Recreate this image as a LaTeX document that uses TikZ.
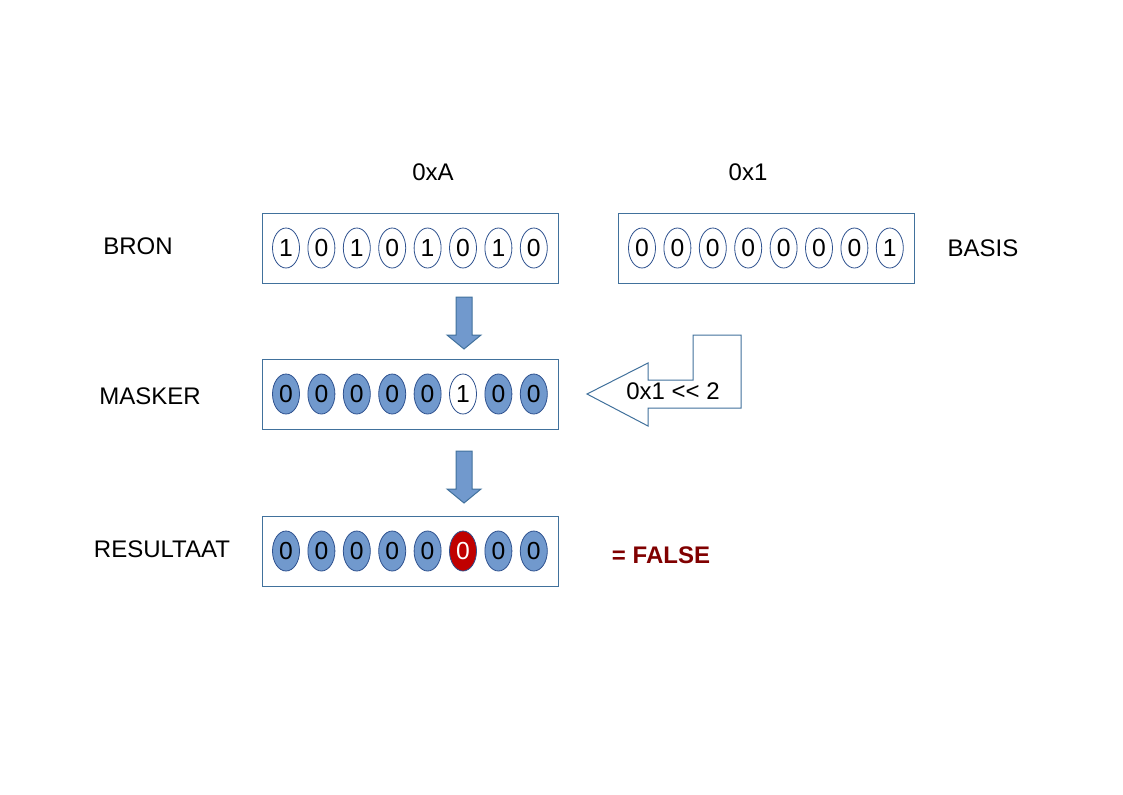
\documentclass[tikz,border=0pt]{standalone}
\usepackage{fontspec}
\setmainfont{Liberation Sans}
\usetikzlibrary{shapes.geometric}
\definecolor{boxline}{HTML}{41719C}
\definecolor{bitline}{HTML}{2F528F}
\definecolor{bitfill}{HTML}{7199CD}
\definecolor{redfill}{HTML}{C00000}
\definecolor{falsecol}{HTML}{800000}
\tikzset{
  regbox/.style={draw=boxline, line width=0.75pt, fill=white},
  bit/.style={ellipse, draw=bitline, line width=0.6pt, minimum width=27*0.75pt, minimum height=40*0.75pt, inner sep=0pt, font=\fontsize{18.5}{20}\selectfont},
  bitset/.style={bit, fill=bitfill},
  bitred/.style={bit, fill=redfill, text=white},
  lbl/.style={font=\fontsize{18}{20}\selectfont, inner sep=0pt},
  blockarrow/.style={draw=boxline, line width=0.75pt, fill=bitfill},
}
\begin{document}
\begin{tikzpicture}[x=0.75pt, y=-0.75pt]
\useasboundingbox (0,0) rectangle (1123,794);
% registers
\node[regbox, minimum width=296*0.75pt, minimum height=70*0.75pt, inner sep=0pt] (bron) at (410,248) {};
\node[regbox, minimum width=296*0.75pt, minimum height=70*0.75pt, inner sep=0pt] (basis) at (766,248) {};
\node[regbox, minimum width=296*0.75pt, minimum height=70*0.75pt, inner sep=0pt] (masker) at (410,394) {};
\node[regbox, minimum width=296*0.75pt, minimum height=70*0.75pt, inner sep=0pt] (result) at (410,551) {};
% bits BRON
\foreach \v [count=\i] in {1,0,1,0,1,0,1,0}
  \node[bit] (a\i) at ({286+(\i-1)*35.4},248) {\v};
% bits BASIS
\foreach \v [count=\i] in {0,0,0,0,0,0,0}
  \node[bit] (b\i) at ({642+(\i-1)*35.4},248) {\v};
\node[bit] (b8) at ({642+7*35.4},248) {\raisebox{-2pt}{1}};
% bits MASKER
\foreach \v [count=\i] in {0,0,0,0,0}
  \node[bitset] (m\i) at ({286+(\i-1)*35.4},394) {\v};
\node[bit] (m6) at ({286+5*35.4},394) {1};
\node[bitset] (m7) at ({286+6*35.4},394) {0};
\node[bitset] (m8) at ({286+7*35.4},394) {0};
% bits RESULTAAT
\foreach \v [count=\i] in {0,0,0,0,0}
  \node[bitset] (r\i) at ({286+(\i-1)*35.4},551) {\v};
\node[bitred] (r6) at ({286+5*35.4},551) {0};
\node[bitset] (r7) at ({286+6*35.4},551) {0};
\node[bitset] (r8) at ({286+7*35.4},551) {0};
% labels
\node[lbl] (hexA) at (433,172) {0xA};
\node[lbl] (hex1) at (748,172) {0x1};
\node[lbl] (lbron) at (138,246) {BRON};
\node[lbl] (lbasis) at (983,248) {BASIS};
\node[lbl] (lmasker) at (150,396) {MASKER};
\node[lbl] (lres) at (162,549) {RESULTAAT};
\node[lbl, font=\fontsize{18}{20}\selectfont\bfseries, text=falsecol] (lfalse) at (661,555) {= FALSE};
% down arrows
\draw[blockarrow] (456,297) -- (472,297) -- (472,335) -- (481,335) -- (464,349) -- (447,335) -- (456,335) -- cycle;
\draw[blockarrow] (456,451) -- (472,451) -- (472,489) -- (481,489) -- (464,503) -- (447,489) -- (456,489) -- cycle;
% bent left arrow
\draw[draw=boxline, line width=0.75pt, fill=white] (587,394) -- (648,363) -- (648,380) -- (693,380) -- (693,335) -- (741,335) -- (741,408) -- (648,408) -- (648,426) -- cycle;
\node[lbl] (shift) at (673,391) {0x1 {<}{<} 2};
\end{tikzpicture}
\end{document}
